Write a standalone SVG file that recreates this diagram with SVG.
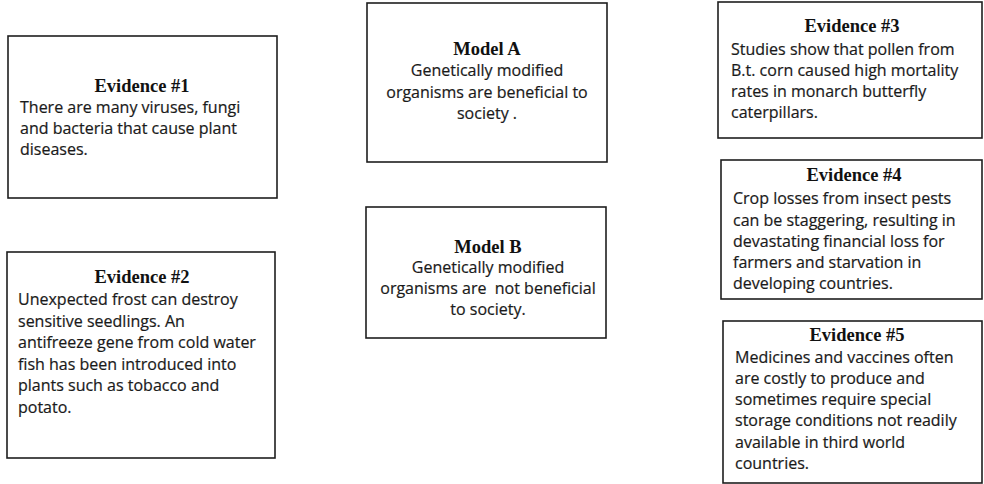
<svg xmlns="http://www.w3.org/2000/svg" width="984" height="484" viewBox="0 0 984 484">
<style>
.box{fill:#fff;stroke:#1e1e1e;stroke-width:1.6}
.t{font-family:"Liberation Serif","Times New Roman",serif;font-weight:bold;font-size:18.5px;fill:#111;text-anchor:middle}
.b{font-family:"Open Sans","Noto Sans",sans-serif;font-size:16px;fill:#1a1a1a;stroke:#1a1a1a;stroke-width:0.2}
.c{text-anchor:middle}
</style>
<rect width="984" height="484" fill="#fff"/>
<g id="connectors"/>
<g id="evidence1">
<rect class="box" x="8" y="36" width="269" height="162"/>
<text class="t" x="142" y="92">Evidence #1</text>
<text class="b" x="20" y="113">There are many viruses, fungi</text>
<text class="b" x="20" y="134">and bacteria that cause plant</text>
<text class="b" x="20" y="155">diseases.</text>
</g>
<g id="evidence2">
<rect class="box" x="7" y="252" width="268" height="206"/>
<text class="t" x="142" y="283">Evidence #2</text>
<text class="b" x="18" y="305">Unexpected frost can destroy</text>
<text class="b" x="18" y="326.5">sensitive seedlings. An</text>
<text class="b" x="18" y="348">antifreeze gene from cold water</text>
<text class="b" x="18" y="369.5">fish has been introduced into</text>
<text class="b" x="18" y="391">plants such as tobacco and</text>
<text class="b" x="18" y="412.5">potato.</text>
</g>
<g id="modelA">
<rect class="box" x="367" y="3" width="240" height="159"/>
<text class="t" x="487" y="55">Model A</text>
<text class="b c" x="487" y="76">Genetically modified</text>
<text class="b c" x="487" y="98">organisms are beneficial to</text>
<text class="b c" x="487" y="119">society .</text>
</g>
<g id="modelB">
<rect class="box" x="366" y="207" width="240" height="131"/>
<text class="t" x="488" y="253">Model B</text>
<text class="b c" x="488" y="273">Genetically modified</text>
<text class="b c" x="488" y="294" xml:space="preserve">organisms are  not beneficial</text>
<text class="b c" x="488" y="315">to society.</text>
</g>
<g id="evidence3">
<rect class="box" x="718" y="2" width="264" height="136"/>
<text class="t" x="852" y="32">Evidence #3</text>
<text class="b" x="731" y="55">Studies show that pollen from</text>
<text class="b" x="731" y="76">B.t. corn caused high mortality</text>
<text class="b" x="731" y="97">rates in monarch butterfly</text>
<text class="b" x="731" y="118">caterpillars.</text>
</g>
<g id="evidence4">
<rect class="box" x="721" y="160" width="261" height="139"/>
<text class="t" x="854" y="181">Evidence #4</text>
<text class="b" x="733" y="204">Crop losses from insect pests</text>
<text class="b" x="733" y="226">can be staggering, resulting in</text>
<text class="b" x="733" y="247">devastating financial loss for</text>
<text class="b" x="733" y="268">farmers and starvation in</text>
<text class="b" x="733" y="289">developing countries.</text>
</g>
<g id="evidence5">
<rect class="box" x="723" y="321" width="259" height="162"/>
<text class="t" x="857" y="341">Evidence #5</text>
<text class="b" x="735" y="363">Medicines and vaccines often</text>
<text class="b" x="735" y="384">are costly to produce and</text>
<text class="b" x="735" y="405">sometimes require special</text>
<text class="b" x="735" y="426">storage conditions not readily</text>
<text class="b" x="735" y="448">available in third world</text>
<text class="b" x="735" y="469">countries.</text>
</g>
</svg>
